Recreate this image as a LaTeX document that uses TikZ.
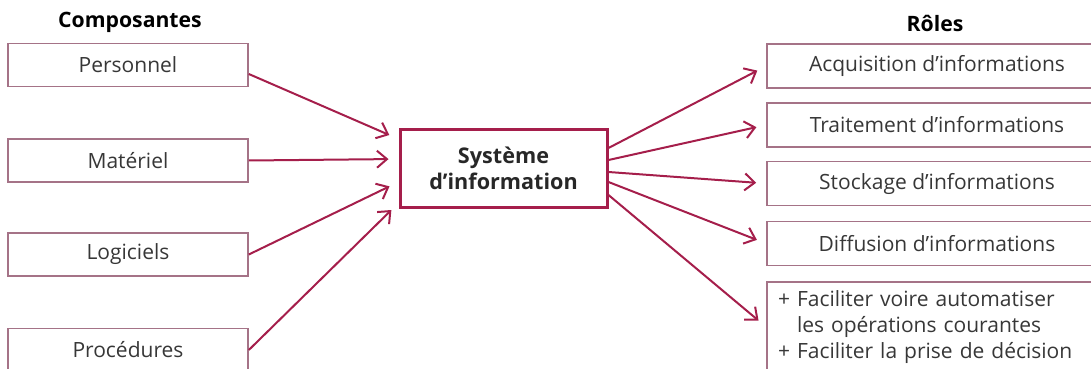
\documentclass[tikz,border=0pt]{standalone}
\usepackage{fontspec}
\setmainfont{Open Sans}
\usepackage{tikz}
\usetikzlibrary{arrows.meta, positioning}

\definecolor{bordeaux}{RGB}{165,30,75}
\definecolor{cadre}{RGB}{165,115,135}
\definecolor{texte}{RGB}{55,55,55}

\tikzset{
  comp/.style={draw=cadre, line width=0.8pt, minimum width=120pt, minimum height=21.5pt, text=texte, inner sep=0pt},
  role/.style={draw=cadre, line width=0.8pt, minimum width=170pt, minimum height=22pt, text=texte, inner sep=0pt},
  fleche/.style={bordeaux, line width=1pt, -{Straight Barb[length=5pt, width=8.5pt]}, shorten >=5pt},
}

\begin{document}
\begin{tikzpicture}[x=0.5pt, y=-0.5pt, font=\fontsize{10.5}{12}\selectfont]
  \clip (0,0) rectangle (1091,369);
  % Titres
  \node[font=\bfseries\fontsize{10.6}{12}\selectfont] (tcomp) at (130,22) {Composantes};
  \node[font=\bfseries\fontsize{10.6}{12}\selectfont] (troles) at (935,23) {Rôles};
  % Composantes
  \node[comp] (pers) at (128,65) {Personnel};
  \node[comp] (mat) at (128,160.5) {Matériel};
  \node[comp] (logi) at (128,254.5) {Logiciels};
  \node[comp] (proc) at (128,350) {Procédures};
  % Systeme
  \node[draw=bordeaux, line width=1.5pt, minimum width=103.5pt, minimum height=39pt,
        align=center, font=\bfseries\fontsize{10.8}{13}\selectfont, text=texte!70!black] (sys) at (503.5,168)
        {Système\\d’information};
  % Roles
  \node[role] (acq) at (937,66) {Acquisition d’informations};
  \node[role] (trait) at (937,125) {Traitement d’informations};
  \node[role] (stock) at (937,183.5) {Stockage d’informations};
  \node[role] (diff) at (937,243.5) {Diffusion d’informations};
  \node[role, text width=159pt, inner xsep=5.5pt, minimum height=45pt, align=left,
        font=\fontsize{10.5}{13}\selectfont] (autre) at (937,327)
        {+ Faciliter voire automatiser\\\phantom{+ }les opérations courantes\\+ Faciliter la prise de décision};
  % Fleches entrantes
  \draw[fleche] ([yshift=-4.5pt]pers.east) -- ([yshift=14.5pt]sys.west);
  \draw[fleche] (mat.east) -- ([yshift=4.5pt]sys.west);
  \draw[fleche] (logi.east) -- ([yshift=-7pt]sys.west);
  \draw[fleche] (proc.east) -- ([yshift=-17.5pt]sys.west);
  % Fleches sortantes
  \draw[fleche] ([yshift=10pt]sys.east) -- (acq.west);
  \draw[fleche] ([yshift=4pt]sys.east) -- (trait.west);
  \draw[fleche] ([yshift=-2pt]sys.east) -- (stock.west);
  \draw[fleche] ([yshift=-7pt]sys.east) -- (diff.west);
  \draw[fleche] ([yshift=-13.5pt]sys.east) -- (autre.west);
\end{tikzpicture}
\end{document}
